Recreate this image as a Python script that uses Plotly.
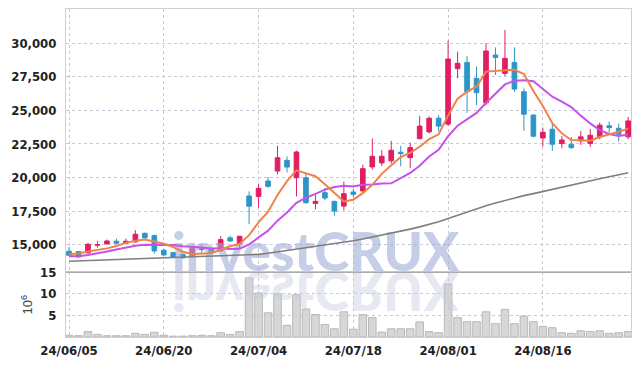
import plotly.graph_objects as go

dates = ["24/06/05", "24/06/07", "24/06/10", "24/06/11", "24/06/12", "24/06/13", "24/06/14", "24/06/17", "24/06/18", "24/06/19",
         "24/06/20", "24/06/21", "24/06/24", "24/06/25", "24/06/26", "24/06/27", "24/06/28", "24/07/01", "24/07/02", "24/07/03",
         "24/07/04", "24/07/05", "24/07/08", "24/07/09", "24/07/10", "24/07/11", "24/07/12", "24/07/15", "24/07/16", "24/07/17",
         "24/07/18", "24/07/19", "24/07/22", "24/07/23", "24/07/24", "24/07/25", "24/07/26", "24/07/29", "24/07/30", "24/07/31",
         "24/08/01", "24/08/02", "24/08/05", "24/08/06", "24/08/07", "24/08/08", "24/08/09", "24/08/12", "24/08/13", "24/08/14",
         "24/08/16", "24/08/19", "24/08/20", "24/08/21", "24/08/22", "24/08/23", "24/08/26", "24/08/27", "24/08/28", "24/08/29"]

opens = [14500, 14480, 14380, 14950, 15050, 15250, 15100, 15200, 15840, 15670,
         14580, 14400, 14280, 14180, 14700, 14700, 14530, 15500, 15080, 18620,
         18590, 19740, 20480, 21280, 19980, 19980, 18070, 18870, 18220, 17870,
         18920, 19000, 20790, 21090, 21240, 21880, 21480, 22900, 23400, 24420,
         23980, 28110, 28580, 27390, 25570, 29130, 27760, 28580, 26390, 24650,
         22950, 23600, 22530, 22480, 22730, 22530, 23030, 23850, 23670, 23030]
highs = [14830, 14500, 15120, 15270, 15370, 15450, 15450, 16070, 15890, 15750,
         14700, 14450, 14330, 14780, 15020, 14880, 15620, 15670, 15650, 18970,
         19490, 20030, 22370, 21570, 22000, 20280, 18690, 19240, 18270, 19690,
         19170, 20960, 22900, 22030, 22730, 22360, 22600, 24600, 24550, 24650,
         30200, 29380, 29050, 28260, 30000, 29700, 31000, 29700, 26640, 24720,
         23720, 24020, 23100, 23030, 23470, 23600, 24100, 24170, 24020, 24520]
lows = [14180, 14030, 14330, 14780, 15000, 15050, 15050, 15150, 15450, 14330,
        14160, 14010, 13960, 14130, 14380, 14330, 14450, 15220, 14680, 16520,
        17750, 19240, 20230, 20380, 18590, 18050, 17630, 18300, 17150, 17550,
        18550, 18870, 20590, 20860, 21040, 20840, 20690, 22830, 23280, 23450,
        23830, 27390, 24820, 25390, 25390, 27640, 27560, 26390, 23480, 22980,
        22300, 21980, 22180, 22110, 22430, 22280, 22850, 23350, 22680, 22850]
closes = [14200, 14080, 15020, 15000, 15270, 15100, 15250, 15770, 15500, 14530,
          14230, 14060, 14010, 14700, 14630, 14380, 15370, 15270, 15620, 17860,
          19190, 19340, 21470, 20780, 21900, 18120, 18220, 18470, 17500, 18790,
          18750, 20660, 21580, 21580, 22030, 21780, 22230, 23830, 24420, 23830,
          28830, 28510, 26390, 26320, 29430, 28950, 28880, 26590, 24720, 23080,
          23370, 22480, 22800, 22230, 23030, 23150, 23900, 23720, 23230, 24220]

ma5 = [14280, 14340, 14480, 14600, 14716, 14895, 15129, 15278, 15378, 15230,
       15056, 14817, 14465, 14305, 14325, 14355, 14618, 14871, 15055, 15700,
       16662, 17455, 18696, 19727, 20536, 20322, 20099, 19498, 18842, 18221,
       18346, 18834, 19457, 20273, 20921, 21529, 21843, 22291, 22859, 23217,
       24627, 25882, 26395, 26773, 27894, 27918, 27993, 28033, 27714, 26444,
       25328, 24048, 23290, 22793, 22782, 22739, 23022, 23206, 23405, 23643]
ma10 = [14130, 14130, 14230, 14330, 14480, 14630, 14780, 14920, 14990, 14973,
        14976, 14973, 14871, 14841, 14777, 14705, 14718, 14668, 14680, 15012,
        15508, 16037, 16783, 17391, 18118, 18492, 18777, 19097, 19285, 19378,
        19334, 19466, 19477, 19558, 19571, 19937, 20338, 20874, 21566, 22069,
        23078, 23862, 24343, 24816, 25556, 26273, 26938, 27214, 27244, 27169,
        26623, 26020, 25662, 25253, 24613, 24033, 23535, 23248, 23099, 23213]
ma60 = [13760, 13785, 13810, 13830, 13855, 13880, 13905, 13930, 13955, 13980,
        14000, 14025, 14050, 14075, 14100, 14125, 14150, 14180, 14210, 14240,
        14270, 14360, 14460, 14560, 14660, 14770, 14870, 14970, 15070, 15170,
        15280, 15420, 15560, 15700, 15840, 15990, 16150, 16320, 16500, 16700,
        16950, 17200, 17450, 17680, 17900, 18100, 18300, 18480, 18650, 18800,
        18950, 19100, 19260, 19420, 19580, 19740, 19900, 20060, 20210, 20350]

volume_m = [0.4, 0.3, 1.25, 0.6, 0.3, 0.3, 0.3, 0.85, 0.6, 1.1,
            0.4, 0.2, 0.2, 0.3, 0.4, 0.3, 1.0, 0.6, 1.25, 13.7,
            10.2, 5.6, 10.0, 2.7, 9.8, 6.5, 5.2, 2.9, 1.9, 5.85,
            1.8, 5.2, 4.5, 1.15, 1.9, 1.9, 1.9, 3.5, 1.25, 1.0,
            12.3, 4.5, 3.55, 3.55, 5.85, 3.1, 6.4, 3.1, 4.85, 3.55,
            2.45, 2.15, 1.0, 0.85, 1.45, 1.3, 1.45, 0.85, 1.0, 1.25]

tick_labels = ["24/06/05", "24/06/20", "24/07/04", "24/07/18", "24/08/01", "24/08/16"]
price_ticks = [15000, 17500, 20000, 22500, 25000, 27500, 30000]
volume_ticks = [5, 10, 15]
watermark = "investCRUX"

RED = "#E11E64"
BLUE = "#2D96C8"
GRID = "#c6c9da"
AXISLINE = "#d0d0d0"
TICKFONT = dict(family="DejaVu Sans Condensed, sans-serif", size=13, color="#222222", weight="bold")

fig = go.Figure()

# watermark (text) and its reflection, drawn first so they sit under the data
fig.add_trace(go.Scatter(x=[dates[26]], y=[14030], mode="text", text=[watermark],
                         textfont=dict(family="Lato, sans-serif", size=53, color="rgba(160,172,214,0.6)", weight=900),
                         textposition="middle center", cliponaxis=False, hoverinfo="skip", showlegend=False,
                         xaxis="x2", yaxis="y"))
fig.add_trace(go.Scatter(x=[dates[26]], y=[8.6], mode="text", text=[watermark],
                         textfont=dict(family="Lato, sans-serif", size=53, color="rgba(200,205,225,0.45)", weight=900),
                         textposition="middle center", cliponaxis=False, hoverinfo="skip", showlegend=False,
                         xaxis="x", yaxis="y2"))

fig.add_trace(go.Bar(x=dates, y=volume_m, marker=dict(color="rgba(205,205,205,0.8)", line=dict(color="#b8b8b8", width=1)),
                     xaxis="x", yaxis="y2", showlegend=False, hoverinfo="skip"))

fig.add_trace(go.Scatter(x=dates, y=ma60, mode="lines", line=dict(color="#7f7f7f", width=1.6),
                         xaxis="x2", yaxis="y", showlegend=False))
fig.add_trace(go.Scatter(x=dates, y=ma10, mode="lines", line=dict(color="#C850EB", width=2),
                         xaxis="x2", yaxis="y", showlegend=False))
fig.add_trace(go.Scatter(x=dates, y=ma5, mode="lines", line=dict(color="#F0824B", width=2),
                         xaxis="x2", yaxis="y", showlegend=False))

fig.add_trace(go.Candlestick(x=dates, open=opens, high=highs, low=lows, close=closes,
                             increasing=dict(line=dict(color=RED, width=1), fillcolor=RED),
                             decreasing=dict(line=dict(color=BLUE, width=1), fillcolor=BLUE),
                             whiskerwidth=0, xaxis="x2", yaxis="y", showlegend=False))

xcommon = dict(type="category", categoryorder="array", categoryarray=dates,
               range=[-0.32, 59.3], showgrid=True, gridcolor=GRID, griddash="dot", gridwidth=1,
               tickmode="array", tickvals=tick_labels, ticktext=tick_labels, showline=True, linecolor=AXISLINE,
               mirror=True, zeroline=False, rangeslider=dict(visible=False), fixedrange=True, automargin=False)

fig.update_layout(
    width=639, height=366,
    margin=dict(l=66, r=8, t=9, b=29),
    paper_bgcolor="white", plot_bgcolor="white",
    showlegend=False,
    xaxis=dict(**xcommon, anchor="y2", tickfont=TICKFONT, ticks="", ticklabelstandoff=1),
    xaxis2=dict(**xcommon, anchor="y", matches="x", showticklabels=False),
    yaxis=dict(domain=[0.1973, 1], range=[12935, 32560], tickvals=price_ticks, tickformat=",",
               showgrid=True, gridcolor=GRID, griddash="dot", zeroline=False, showline=True,
               linecolor=AXISLINE, mirror=True, tickfont=TICKFONT, ticks="", ticklabelstandoff=6,
               fixedrange=True, automargin=False),
    yaxis2=dict(domain=[0, 0.1973], range=[0, 15], tickvals=volume_ticks, showgrid=True, gridcolor=GRID,
                griddash="dot", zeroline=False, showline=True, linecolor=AXISLINE, mirror=True,
                tickfont=TICKFONT, ticks="", ticklabelstandoff=6, fixedrange=True, automargin=False,
                title=dict(text="10<sup>6</sup>", font=dict(family="Liberation Sans, sans-serif", size=13, color="#444444"),
                           standoff=4)),
    shapes=[dict(type="line", xref="paper", yref="paper", x0=0, x1=1, y0=0.1973, y1=0.1973,
                 line=dict(color="#a0a0a0", width=1))],
)

post_js = """
document.body.style.margin = '0';
document.body.style.padding = '0';
var gd = document.getElementById('{plot_id}');
var ts = gd.querySelectorAll('.textpoint text');
var el = null, best = -1e9;
ts.forEach(function(t){ var r = t.getBoundingClientRect(); if (r.top > best) { best = r.top; el = t; } });
if (el) { var b = el.getBBox(); var cy = b.y + b.height / 2; el.setAttribute('transform', 'translate(0,' + (2 * cy) + ') scale(1,-1)'); }
"""

fig.write_html("out.html", config={"displayModeBar": False}, post_script=post_js)
